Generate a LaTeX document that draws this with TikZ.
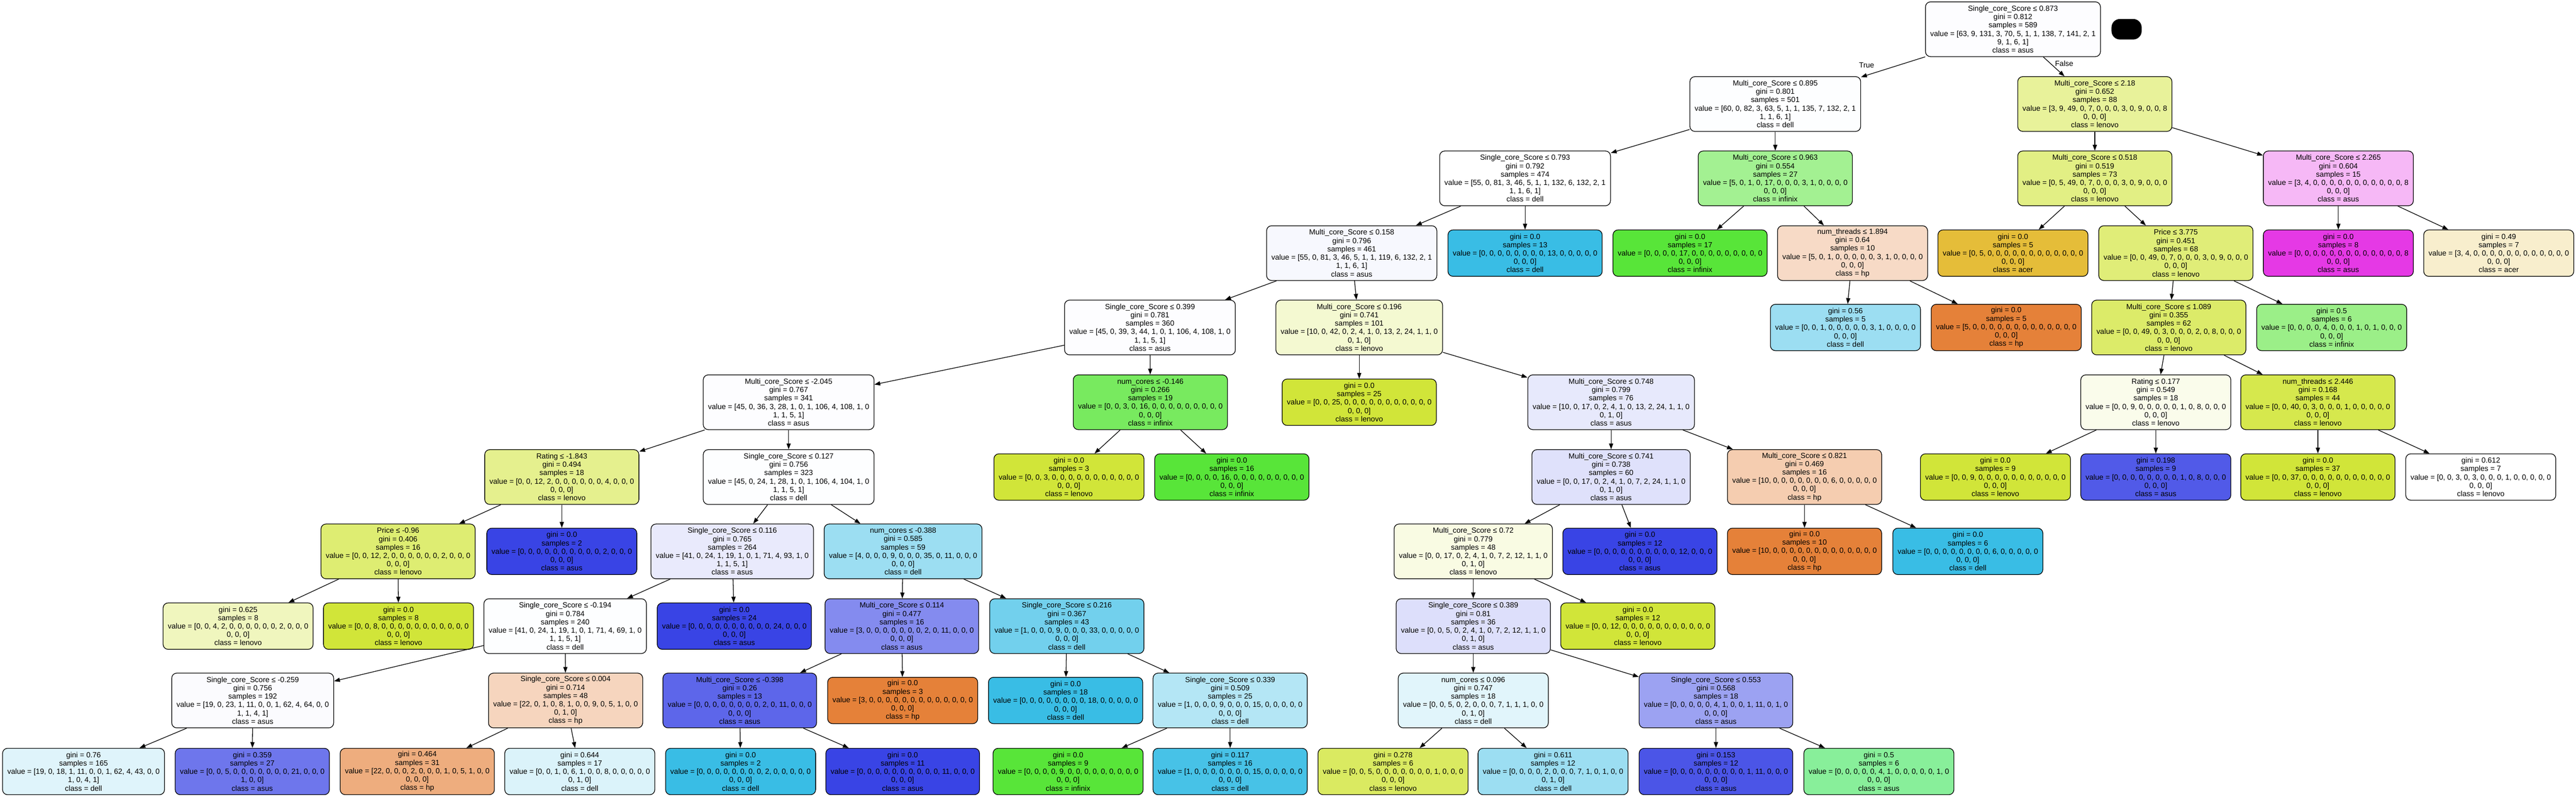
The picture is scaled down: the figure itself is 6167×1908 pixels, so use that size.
\documentclass[tikz,border=0pt]{standalone}
\usepackage{fontspec}
\setmainfont{Liberation Sans}
\usetikzlibrary{arrows.meta}

\definecolor{hpc}{RGB}{229,129,57}
\definecolor{acerc}{RGB}{229,189,57}
\definecolor{lenovoc}{RGB}{209,229,57}
\definecolor{infinixc}{RGB}{88,229,57}
\definecolor{mintc}{RGB}{57,229,86}
\definecolor{dellc}{RGB}{57,189,229}
\definecolor{asusc}{RGB}{57,68,229}
\definecolor{pinkc}{RGB}{229,57,229}

\begin{document}
\begin{tikzpicture}[->,>={Triangle[length=0.14cm,width=0.1cm]},x=0.01cm,y=-0.01cm,
      line width=0.45pt,
      box/.style={draw,line width=0.45pt,rounded corners=0.12cm,align=center,
        inner xsep=0.115cm,inner ysep=0pt,font=\fontsize{5.08pt}{5.69pt}\selectfont},
      split/.style={box,minimum height=1.31cm},
      leaf/.style={box,minimum height=1.11cm},
      lbl/.style={inner sep=0pt,font=\fontsize{5.08pt}{5.69pt}\selectfont}]
  \useasboundingbox (0,0) rectangle (6167,1908);
  \node[fill=black,rounded corners=0.2cm,minimum width=0.72cm,minimum height=0.49cm,inner sep=0pt] (key) at (5091,70) {};
  % depth 0-2
  \node[split,fill=asusc!1!white] (n0) at (4819,70) {Single\_core\_Score ≤ 0.873\\gini = 0.812\\samples = 589\\value = [63, 9, 131, 3, 70, 5, 1, 1, 138, 7, 141, 2, 1\\9, 1, 6, 1]\\class = asus};
  \node[split,fill=dellc!1!white] (n1) at (4250,249) {Multi\_core\_Score ≤ 0.895\\gini = 0.801\\samples = 501\\value = [60, 0, 82, 3, 63, 5, 1, 1, 135, 7, 132, 2, 1\\1, 1, 6, 1]\\class = dell};
  \node[split,fill=lenovoc!51!white] (n2) at (5015,249) {Multi\_core\_Score ≤ 2.18\\gini = 0.652\\samples = 88\\value = [3, 9, 49, 0, 7, 0, 0, 0, 3, 0, 9, 0, 0, 8\\0, 0, 0]\\class = lenovo};
  \node[split,fill=white] (n3) at (3651,427) {Single\_core\_Score ≤ 0.793\\gini = 0.792\\samples = 474\\value = [55, 0, 81, 3, 46, 5, 1, 1, 132, 6, 132, 2, 1\\1, 1, 6, 1]\\class = dell};
  \node[split,fill=infinixc!55!white] (n4) at (4250,427) {Multi\_core\_Score ≤ 0.963\\gini = 0.554\\samples = 27\\value = [5, 0, 1, 0, 17, 0, 0, 0, 3, 1, 0, 0, 0, 0\\0, 0, 0]\\class = infinix};
  \node[split,fill=lenovoc!62!white] (n5) at (5015,427) {Multi\_core\_Score ≤ 0.518\\gini = 0.519\\samples = 73\\value = [0, 5, 49, 0, 7, 0, 0, 0, 3, 0, 9, 0, 0, 0\\0, 0, 0]\\class = lenovo};
  \node[split,fill=pinkc!36!white] (n6) at (5598,427) {Multi\_core\_Score ≤ 2.265\\gini = 0.604\\samples = 15\\value = [3, 4, 0, 0, 0, 0, 0, 0, 0, 0, 0, 0, 0, 8\\0, 0, 0]\\class = asus};
  % depth 3
  \node[split,fill=asusc!4!white] (n7) at (3236,606) {Multi\_core\_Score ≤ 0.158\\gini = 0.796\\samples = 461\\value = [55, 0, 81, 3, 46, 5, 1, 1, 119, 6, 132, 2, 1\\1, 1, 6, 1]\\class = asus};
  \node[leaf,fill=dellc] (n8) at (3651,606) {gini = 0.0\\samples = 13\\value = [0, 0, 0, 0, 0, 0, 0, 0, 13, 0, 0, 0, 0, 0\\0, 0, 0]\\class = dell};
  \node[leaf,fill=infinixc] (n9) at (4046,606) {gini = 0.0\\samples = 17\\value = [0, 0, 0, 0, 17, 0, 0, 0, 0, 0, 0, 0, 0, 0\\0, 0, 0]\\class = infinix};
  \node[split,fill=hpc!29!white] (n10) at (4435,606) {num\_threads ≤ 1.894\\gini = 0.64\\samples = 10\\value = [5, 0, 1, 0, 0, 0, 0, 0, 3, 1, 0, 0, 0, 0\\0, 0, 0]\\class = hp};
  \node[leaf,fill=acerc] (n11) at (4819,606) {gini = 0.0\\samples = 5\\value = [0, 5, 0, 0, 0, 0, 0, 0, 0, 0, 0, 0, 0, 0\\0, 0, 0]\\class = acer};
  \node[split,fill=lenovoc!68!white] (n12) at (5209,606) {Price ≤ 3.775\\gini = 0.451\\samples = 68\\value = [0, 0, 49, 0, 7, 0, 0, 0, 3, 0, 9, 0, 0, 0\\0, 0, 0]\\class = lenovo};
  \node[leaf,fill=pinkc] (n13) at (5598,606) {gini = 0.0\\samples = 8\\value = [0, 0, 0, 0, 0, 0, 0, 0, 0, 0, 0, 0, 0, 8\\0, 0, 0]\\class = asus};
  \node[leaf,fill=acerc!25!white] (n14) at (5982,606) {gini = 0.49\\samples = 7\\value = [3, 4, 0, 0, 0, 0, 0, 0, 0, 0, 0, 0, 0, 0\\0, 0, 0]\\class = acer};
  % depth 4
  \node[split,fill=asusc!1!white] (n15) at (2753,784) {Single\_core\_Score ≤ 0.399\\gini = 0.781\\samples = 360\\value = [45, 0, 39, 3, 44, 1, 0, 1, 106, 4, 108, 1, 0\\1, 1, 5, 1]\\class = asus};
  \node[split,fill=lenovoc!23!white] (n16) at (3254,784) {Multi\_core\_Score ≤ 0.196\\gini = 0.741\\samples = 101\\value = [10, 0, 42, 0, 2, 4, 1, 0, 13, 2, 24, 1, 1, 0\\0, 1, 0]\\class = lenovo};
  \node[leaf,fill=dellc!50!white] (n17) at (4418,784) {gini = 0.56\\samples = 5\\value = [0, 0, 1, 0, 0, 0, 0, 0, 3, 1, 0, 0, 0, 0\\0, 0, 0]\\class = dell};
  \node[leaf,fill=hpc] (n18) at (4803,784) {gini = 0.0\\samples = 5\\value = [5, 0, 0, 0, 0, 0, 0, 0, 0, 0, 0, 0, 0, 0\\0, 0, 0]\\class = hp};
  \node[split,fill=lenovoc!76!white] (n19) at (5192,784) {Multi\_core\_Score ≤ 1.089\\gini = 0.355\\samples = 62\\value = [0, 0, 49, 0, 3, 0, 0, 0, 2, 0, 8, 0, 0, 0\\0, 0, 0]\\class = lenovo};
  \node[leaf,fill=infinixc!60!white] (n20) at (5582,784) {gini = 0.5\\samples = 6\\value = [0, 0, 0, 0, 4, 0, 0, 0, 1, 0, 1, 0, 0, 0\\0, 0, 0]\\class = infinix};
  % depth 5
  \node[split,fill=asusc!1!white] (n21) at (1888,963) {Multi\_core\_Score ≤ -2.045\\gini = 0.767\\samples = 341\\value = [45, 0, 36, 3, 28, 1, 0, 1, 106, 4, 108, 1, 0\\1, 1, 5, 1]\\class = asus};
  \node[split,fill=infinixc!81!white] (n22) at (2754,963) {num\_cores ≤ -0.146\\gini = 0.266\\samples = 19\\value = [0, 0, 3, 0, 16, 0, 0, 0, 0, 0, 0, 0, 0, 0\\0, 0, 0]\\class = infinix};
  \node[leaf,fill=lenovoc] (n23) at (3254,963) {gini = 0.0\\samples = 25\\value = [0, 0, 25, 0, 0, 0, 0, 0, 0, 0, 0, 0, 0, 0\\0, 0, 0]\\class = lenovo};
  \node[split,fill=asusc!12!white] (n24) at (3857,963) {Multi\_core\_Score ≤ 0.748\\gini = 0.799\\samples = 76\\value = [10, 0, 17, 0, 2, 4, 1, 0, 13, 2, 24, 1, 1, 0\\0, 1, 0]\\class = asus};
  \node[split,fill=lenovoc!10!white] (n25) at (5161,963) {Rating ≤ 0.177\\gini = 0.549\\samples = 18\\value = [0, 0, 9, 0, 0, 0, 0, 0, 1, 0, 8, 0, 0, 0\\0, 0, 0]\\class = lenovo};
  \node[split,fill=lenovoc!90!white] (n26) at (5549,963) {num\_threads ≤ 2.446\\gini = 0.168\\samples = 44\\value = [0, 0, 40, 0, 3, 0, 0, 0, 1, 0, 0, 0, 0, 0\\0, 0, 0]\\class = lenovo};
  % depth 6
  \node[split,fill=lenovoc!57!white] (n27) at (1345,1142) {Rating ≤ -1.843\\gini = 0.494\\samples = 18\\value = [0, 0, 12, 2, 0, 0, 0, 0, 0, 0, 4, 0, 0, 0\\0, 0, 0]\\class = lenovo};
  \node[split,fill=dellc!1!white] (n28) at (1888,1142) {Single\_core\_Score ≤ 0.127\\gini = 0.756\\samples = 323\\value = [45, 0, 24, 1, 28, 1, 0, 1, 106, 4, 104, 1, 0\\1, 1, 5, 1]\\class = dell};
  \node[leaf,fill=lenovoc] (n29) at (2559,1142) {gini = 0.0\\samples = 3\\value = [0, 0, 3, 0, 0, 0, 0, 0, 0, 0, 0, 0, 0, 0\\0, 0, 0]\\class = lenovo};
  \node[leaf,fill=infinixc] (n30) at (2949,1142) {gini = 0.0\\samples = 16\\value = [0, 0, 0, 0, 16, 0, 0, 0, 0, 0, 0, 0, 0, 0\\0, 0, 0]\\class = infinix};
  \node[split,fill=asusc!16!white] (n31) at (3857,1142) {Multi\_core\_Score ≤ 0.741\\gini = 0.738\\samples = 60\\value = [0, 0, 17, 0, 2, 4, 1, 0, 7, 2, 24, 1, 1, 0\\0, 1, 0]\\class = asus};
  \node[split,fill=hpc!40!white] (n32) at (4320,1142) {Multi\_core\_Score ≤ 0.821\\gini = 0.469\\samples = 16\\value = [10, 0, 0, 0, 0, 0, 0, 0, 6, 0, 0, 0, 0, 0\\0, 0, 0]\\class = hp};
  \node[leaf,fill=lenovoc] (n33) at (4777,1142) {gini = 0.0\\samples = 9\\value = [0, 0, 9, 0, 0, 0, 0, 0, 0, 0, 0, 0, 0, 0\\0, 0, 0]\\class = lenovo};
  \node[leaf,fill=asusc!88!white] (n34) at (5161,1142) {gini = 0.198\\samples = 9\\value = [0, 0, 0, 0, 0, 0, 0, 0, 1, 0, 8, 0, 0, 0\\0, 0, 0]\\class = asus};
  \node[leaf,fill=lenovoc] (n35) at (5549,1142) {gini = 0.0\\samples = 37\\value = [0, 0, 37, 0, 0, 0, 0, 0, 0, 0, 0, 0, 0, 0\\0, 0, 0]\\class = lenovo};
  \node[leaf,fill=white] (n36) at (5939,1142) {gini = 0.612\\samples = 7\\value = [0, 0, 3, 0, 3, 0, 0, 0, 1, 0, 0, 0, 0, 0\\0, 0, 0]\\class = lenovo};
  % depth 7
  \node[split,fill=lenovoc!71!white] (n37) at (953,1320) {Price ≤ -0.96\\gini = 0.406\\samples = 16\\value = [0, 0, 12, 2, 0, 0, 0, 0, 0, 0, 2, 0, 0, 0\\0, 0, 0]\\class = lenovo};
  \node[leaf,fill=asusc] (n38) at (1345,1320) {gini = 0.0\\samples = 2\\value = [0, 0, 0, 0, 0, 0, 0, 0, 0, 0, 2, 0, 0, 0\\0, 0, 0]\\class = asus};
  \node[split,fill=asusc!11!white] (n39) at (1753,1320) {Single\_core\_Score ≤ 0.116\\gini = 0.765\\samples = 264\\value = [41, 0, 24, 1, 19, 1, 0, 1, 71, 4, 93, 1, 0\\1, 1, 5, 1]\\class = asus};
  \node[split,fill=dellc!50!white] (n40) at (2162,1320) {num\_cores ≤ -0.388\\gini = 0.585\\samples = 59\\value = [4, 0, 0, 0, 9, 0, 0, 0, 35, 0, 11, 0, 0, 0\\0, 0, 0]\\class = dell};
  \node[split,fill=lenovoc!14!white] (n41) at (3527,1320) {Multi\_core\_Score ≤ 0.72\\gini = 0.779\\samples = 48\\value = [0, 0, 17, 0, 2, 4, 1, 0, 7, 2, 12, 1, 1, 0\\0, 1, 0]\\class = lenovo};
  \node[leaf,fill=asusc] (n42) at (3926,1320) {gini = 0.0\\samples = 12\\value = [0, 0, 0, 0, 0, 0, 0, 0, 0, 0, 12, 0, 0, 0\\0, 0, 0]\\class = asus};
  \node[leaf,fill=hpc] (n43) at (4320,1320) {gini = 0.0\\samples = 10\\value = [10, 0, 0, 0, 0, 0, 0, 0, 0, 0, 0, 0, 0, 0\\0, 0, 0]\\class = hp};
  \node[leaf,fill=dellc] (n44) at (4711,1320) {gini = 0.0\\samples = 6\\value = [0, 0, 0, 0, 0, 0, 0, 0, 6, 0, 0, 0, 0, 0\\0, 0, 0]\\class = dell};
  % depth 8
  \node[leaf,fill=lenovoc!33!white] (n45) at (570,1499) {gini = 0.625\\samples = 8\\value = [0, 0, 4, 2, 0, 0, 0, 0, 0, 0, 2, 0, 0, 0\\0, 0, 0]\\class = lenovo};
  \node[leaf,fill=lenovoc] (n46) at (954,1499) {gini = 0.0\\samples = 8\\value = [0, 0, 8, 0, 0, 0, 0, 0, 0, 0, 0, 0, 0, 0\\0, 0, 0]\\class = lenovo};
  \node[split,fill=dellc!1!white] (n47) at (1353,1499) {Single\_core\_Score ≤ -0.194\\gini = 0.784\\samples = 240\\value = [41, 0, 24, 1, 19, 1, 0, 1, 71, 4, 69, 1, 0\\1, 1, 5, 1]\\class = dell};
  \node[leaf,fill=asusc] (n48) at (1758,1499) {gini = 0.0\\samples = 24\\value = [0, 0, 0, 0, 0, 0, 0, 0, 0, 0, 24, 0, 0, 0\\0, 0, 0]\\class = asus};
  \node[split,fill=asusc!62!white] (n49) at (2159,1499) {Multi\_core\_Score ≤ 0.114\\gini = 0.477\\samples = 16\\value = [3, 0, 0, 0, 0, 0, 0, 0, 2, 0, 11, 0, 0, 0\\0, 0, 0]\\class = asus};
  \node[split,fill=dellc!71!white] (n50) at (2554,1499) {Single\_core\_Score ≤ 0.216\\gini = 0.367\\samples = 43\\value = [1, 0, 0, 0, 9, 0, 0, 0, 33, 0, 0, 0, 0, 0\\0, 0, 0]\\class = dell};
  \node[split,fill=asusc!17!white] (n51) at (3527,1499) {Single\_core\_Score ≤ 0.389\\gini = 0.81\\samples = 36\\value = [0, 0, 5, 0, 2, 4, 1, 0, 7, 2, 12, 1, 1, 0\\0, 1, 0]\\class = asus};
  \node[leaf,fill=lenovoc] (n52) at (3921,1499) {gini = 0.0\\samples = 12\\value = [0, 0, 12, 0, 0, 0, 0, 0, 0, 0, 0, 0, 0, 0\\0, 0, 0]\\class = lenovo};
  % depth 9
  \node[split,fill=asusc!2!white] (n53) at (605,1677) {Single\_core\_Score ≤ -0.259\\gini = 0.756\\samples = 192\\value = [19, 0, 23, 1, 11, 0, 0, 1, 62, 4, 64, 0, 0\\1, 1, 4, 1]\\class = asus};
  \node[split,fill=hpc!33!white] (n54) at (1354,1677) {Single\_core\_Score ≤ 0.004\\gini = 0.714\\samples = 48\\value = [22, 0, 1, 0, 8, 1, 0, 0, 9, 0, 5, 1, 0, 0\\0, 1, 0]\\class = hp};
  \node[split,fill=asusc!82!white] (n55) at (1771,1677) {Multi\_core\_Score ≤ -0.398\\gini = 0.26\\samples = 13\\value = [0, 0, 0, 0, 0, 0, 0, 0, 2, 0, 11, 0, 0, 0\\0, 0, 0]\\class = asus};
  \node[leaf,fill=hpc] (n56) at (2161,1677) {gini = 0.0\\samples = 3\\value = [3, 0, 0, 0, 0, 0, 0, 0, 0, 0, 0, 0, 0, 0\\0, 0, 0]\\class = hp};
  \node[leaf,fill=dellc] (n57) at (2551,1677) {gini = 0.0\\samples = 18\\value = [0, 0, 0, 0, 0, 0, 0, 0, 18, 0, 0, 0, 0, 0\\0, 0, 0]\\class = dell};
  \node[split,fill=dellc!38!white] (n58) at (2945,1677) {Single\_core\_Score ≤ 0.339\\gini = 0.509\\samples = 25\\value = [1, 0, 0, 0, 9, 0, 0, 0, 15, 0, 0, 0, 0, 0\\0, 0, 0]\\class = dell};
  \node[split,fill=dellc!15!white] (n59) at (3527,1677) {num\_cores ≤ 0.096\\gini = 0.747\\samples = 18\\value = [0, 0, 5, 0, 2, 0, 0, 0, 7, 1, 1, 1, 0, 0\\0, 1, 0]\\class = dell};
  \node[split,fill=asusc!50!white] (n60) at (4108,1677) {Single\_core\_Score ≤ 0.553\\gini = 0.568\\samples = 18\\value = [0, 0, 0, 0, 0, 4, 1, 0, 0, 1, 11, 0, 1, 0\\0, 0, 0]\\class = asus};
  % depth 10
  \node[leaf,fill=dellc!16!white] (n61) at (200,1847) {gini = 0.76\\samples = 165\\value = [19, 0, 18, 1, 11, 0, 0, 1, 62, 4, 43, 0, 0\\1, 0, 4, 1]\\class = dell};
  \node[leaf,fill=asusc!73!white] (n62) at (604,1847) {gini = 0.359\\samples = 27\\value = [0, 0, 5, 0, 0, 0, 0, 0, 0, 0, 21, 0, 0, 0\\1, 0, 0]\\class = asus};
  \node[leaf,fill=hpc!65!white] (n63) at (999,1847) {gini = 0.464\\samples = 31\\value = [22, 0, 0, 0, 2, 0, 0, 0, 1, 0, 5, 1, 0, 0\\0, 0, 0]\\class = hp};
  \node[leaf,fill=dellc!18!white] (n64) at (1388,1847) {gini = 0.644\\samples = 17\\value = [0, 0, 1, 0, 6, 1, 0, 0, 8, 0, 0, 0, 0, 0\\0, 1, 0]\\class = dell};
  \node[leaf,fill=dellc] (n65) at (1773,1847) {gini = 0.0\\samples = 2\\value = [0, 0, 0, 0, 0, 0, 0, 0, 2, 0, 0, 0, 0, 0\\0, 0, 0]\\class = dell};
  \node[leaf,fill=asusc] (n66) at (2161,1847) {gini = 0.0\\samples = 11\\value = [0, 0, 0, 0, 0, 0, 0, 0, 0, 0, 11, 0, 0, 0\\0, 0, 0]\\class = asus};
  \node[leaf,fill=infinixc] (n67) at (2557,1847) {gini = 0.0\\samples = 9\\value = [0, 0, 0, 0, 9, 0, 0, 0, 0, 0, 0, 0, 0, 0\\0, 0, 0]\\class = infinix};
  \node[leaf,fill=dellc!93!white] (n68) at (2945,1847) {gini = 0.117\\samples = 16\\value = [1, 0, 0, 0, 0, 0, 0, 0, 15, 0, 0, 0, 0, 0\\0, 0, 0]\\class = dell};
  \node[leaf,fill=lenovoc!80!white] (n69) at (3335,1847) {gini = 0.278\\samples = 6\\value = [0, 0, 5, 0, 0, 0, 0, 0, 0, 0, 1, 0, 0, 0\\0, 0, 0]\\class = lenovo};
  \node[leaf,fill=dellc!50!white] (n70) at (3718,1847) {gini = 0.611\\samples = 12\\value = [0, 0, 0, 0, 2, 0, 0, 0, 7, 1, 0, 1, 0, 0\\0, 1, 0]\\class = dell};
  \node[leaf,fill=asusc!91!white] (n71) at (4108,1847) {gini = 0.153\\samples = 12\\value = [0, 0, 0, 0, 0, 0, 0, 0, 0, 1, 11, 0, 0, 0\\0, 0, 0]\\class = asus};
  \node[leaf,fill=mintc!60!white] (n72) at (4498,1847) {gini = 0.5\\samples = 6\\value = [0, 0, 0, 0, 0, 4, 1, 0, 0, 0, 0, 0, 1, 0\\0, 0, 0]\\class = asus};
  \path
    (n0) edge node[lbl,left=0.445cm,yshift=0.04cm] {True} (n1)
    (n0) edge node[lbl,right=0.02cm,yshift=0.07cm] {False} (n2)
    (n1) edge (n3) (n1) edge (n4)
    (n2) edge (n5) (n2) edge (n6)
    (n3) edge (n7) (n3) edge (n8)
    (n4) edge (n9) (n4) edge (n10)
    (n5) edge (n11) (n5) edge (n12)
    (n6) edge (n13) (n6) edge (n14)
    (n7) edge (n15) (n7) edge (n16)
    (n10) edge (n17) (n10) edge (n18)
    (n12) edge (n19) (n12) edge (n20)
    (n15) edge (n21) (n15) edge (n22)
    (n16) edge (n23) (n16) edge (n24)
    (n19) edge (n25) (n19) edge (n26)
    (n21) edge (n27) (n21) edge (n28)
    (n22) edge (n29) (n22) edge (n30)
    (n24) edge (n31) (n24) edge (n32)
    (n25) edge (n33) (n25) edge (n34)
    (n26) edge (n35) (n26) edge (n36)
    (n27) edge (n37) (n27) edge (n38)
    (n28) edge (n39) (n28) edge (n40)
    (n31) edge (n41) (n31) edge (n42)
    (n32) edge (n43) (n32) edge (n44)
    (n37) edge (n45) (n37) edge (n46)
    (n39) edge (n47) (n39) edge (n48)
    (n40) edge (n49) (n40) edge (n50)
    (n41) edge (n51) (n41) edge (n52)
    (n47) edge (n53) (n47) edge (n54)
    (n49) edge (n55) (n49) edge (n56)
    (n50) edge (n57) (n50) edge (n58)
    (n51) edge (n59) (n51) edge (n60)
    (n53) edge (n61) (n53) edge (n62)
    (n54) edge (n63) (n54) edge (n64)
    (n55) edge (n65) (n55) edge (n66)
    (n58) edge (n67) (n58) edge (n68)
    (n59) edge (n69) (n59) edge (n70)
    (n60) edge (n71) (n60) edge (n72);
\end{tikzpicture}
\end{document}
